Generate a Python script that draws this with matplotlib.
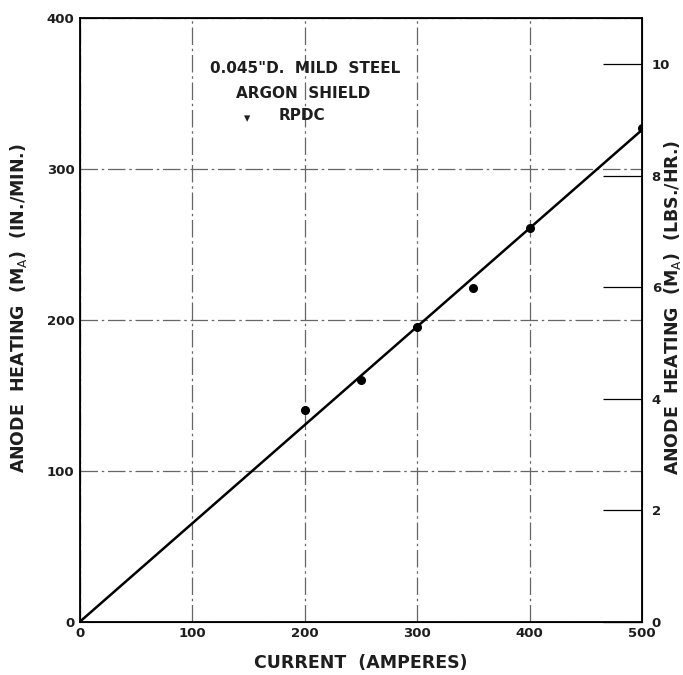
import matplotlib
matplotlib.use("Agg")
import matplotlib.pyplot as plt

# data
current = [200, 250, 300, 350, 400, 500]
heating = [140, 160, 195, 221, 261, 327]
fit_x = [0, 500]
fit_y = [0, 326]

x_ticks = [0, 100, 200, 300, 400, 500]
y_ticks = [0, 100, 200, 300, 400]
y2_ticks = [0, 2, 4, 6, 8, 10]
lbs_per_inmin = 10.82 / 400  # right axis scale

plt.rcParams['font.family'] = ['DejaVu Sans']
ink = '#1e1e1e'

fig = plt.figure(figsize=(6.83, 6.75), dpi=100)
ax = fig.add_axes([0.117, 0.079, 0.823, 0.894])

ax.plot(fit_x, fit_y, color='black', lw=1.8, zorder=3)
ax.plot(current, heating, 'o', color='black', ms=5.5, zorder=4)

ax.set_xlim(0, 500)
ax.set_ylim(0, 400)
ax.set_xticks(x_ticks)
ax.set_yticks(y_ticks)
ax.tick_params(length=0, labelsize=9.5, pad=4)
for lab in ax.get_xticklabels() + ax.get_yticklabels():
    lab.set_fontweight('bold')
    lab.set_color(ink)

ax.grid(True, color='#666666', lw=0.9, linestyle=(0, (14, 3, 2, 3)))
for sp in ax.spines.values():
    sp.set_linewidth(1.3)

ax.set_xlabel('CURRENT  (AMPERES)', fontsize=12.5, fontweight='bold', color=ink)
ax.xaxis.set_label_coords(0.5, -0.068)
ax.xaxis.label.set_va('center')
ax.set_ylabel('ANODE  HEATING  (M$_{\\rm A}$)  (IN./MIN.)', fontsize=12.5,
              fontweight='bold', color=ink)
ax.yaxis.set_label_coords(-0.11, 0.52)
ax.yaxis.label.set_va('center')

ax2 = ax.twinx()
ax2.set_ylim(0, 400 * lbs_per_inmin)
ax2.set_yticks(y2_ticks)
ax2.tick_params(direction='in', length=28, width=0.9, labelsize=9.5, pad=7)
for lab in ax2.get_yticklabels():
    lab.set_fontweight('bold')
    lab.set_color(ink)
ax2.set_ylabel('ANODE  HEATING  (M$_{\\rm A}$)  (LBS./HR.)', fontsize=12.5,
               fontweight='bold', color=ink, rotation=90)
ax2.yaxis.set_label_coords(1.055, 0.52)
ax2.yaxis.label.set_va('center')

# legend block
ax.text(0.40, 0.917, '0.045"D.  MILD  STEEL', transform=ax.transAxes,
        ha='center', va='center', fontsize=11, fontweight='bold', color=ink)
ax.text(0.397, 0.876, 'ARGON  SHIELD', transform=ax.transAxes,
        ha='center', va='center', fontsize=11, fontweight='bold', color=ink)
ax.text(0.298, 0.834, '\u25be', transform=ax.transAxes,
        ha='center', va='center', fontsize=9, color=ink)
ax.text(0.395, 0.838, 'RPDC', transform=ax.transAxes,
        ha='center', va='center', fontsize=11, fontweight='bold', color=ink)

fig.savefig('out.png', dpi=100)
